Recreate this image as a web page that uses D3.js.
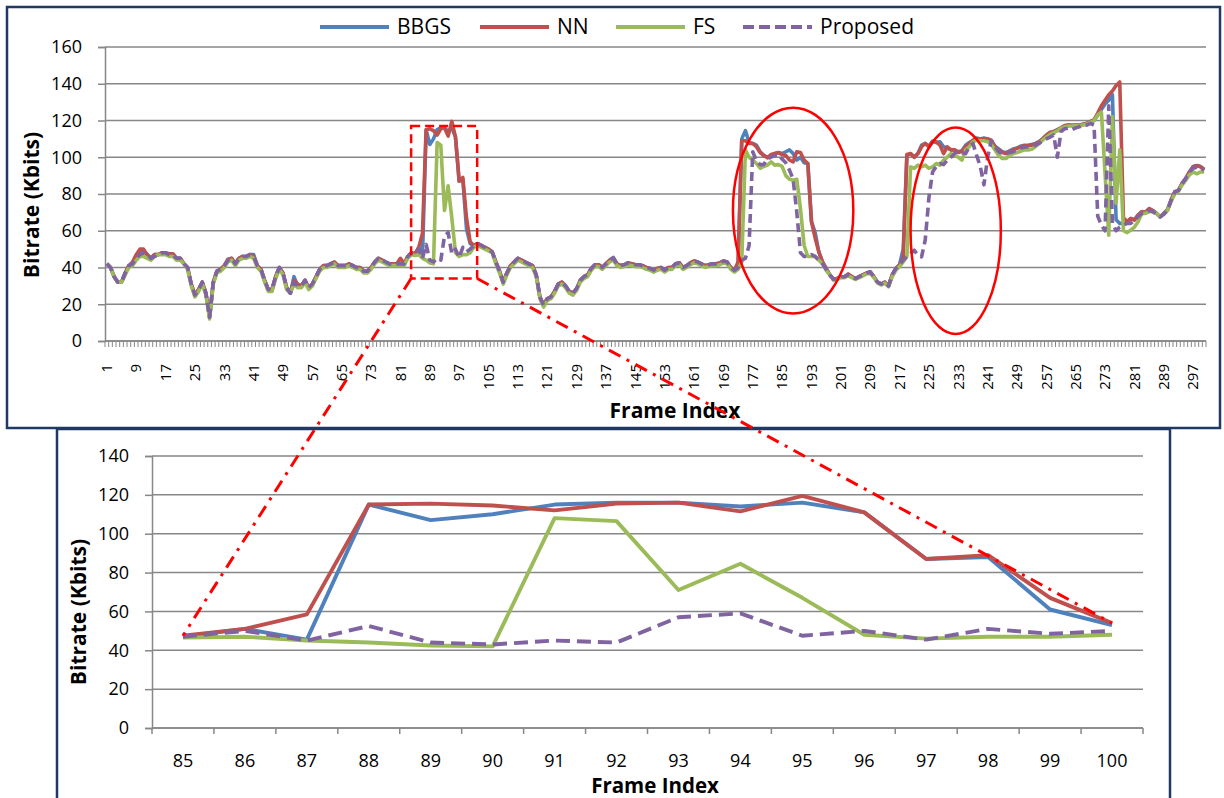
<!DOCTYPE html>
<html>
<head>
<meta charset="utf-8">
<script src="https://cdn.jsdelivr.net/npm/d3@7/dist/d3.min.js"></script>
<style>
  body { margin: 0; background: #fff; }
  svg { display: block; font-family: "Open Sans", sans-serif; }
</style>
</head>
<body>
<svg id="chart" width="1224" height="798"></svg>
<script>
// frame index categories of the full run and of the zoomed window
const frames = d3.range(1, 301)
const zoomFrames = [85, 86, 87, 88, 89, 90, 91, 92, 93, 94, 95, 96, 97, 98, 99, 100]
const topLabelFrames = [1, 9, 17, 25, 33, 41, 49, 57, 65, 73, 81, 89, 97, 105, 113, 121, 129, 137, 145,
  153, 161, 169, 177, 185, 193, 201, 209, 217, 225, 233, 241, 249, 257, 265, 273, 281, 289, 297]
const topYTicks = [0, 20, 40, 60, 80, 100, 120, 140, 160]
const zoomYTicks = [0, 20, 40, 60, 80, 100, 120, 140]

// bitrate (Kbits) per frame
const bbgs = [
  42, 40, 35, 32, 32, 37, 41, 42, 46, 49,
  49, 47, 45, 47, 47, 48, 48, 47, 47, 45,
  45, 42, 40, 31, 25, 28, 32, 26, 13, 32,
  38, 39, 41, 44, 45, 42, 45, 46, 46, 47,
  47, 41, 39, 33, 28, 28, 35, 40, 37, 29,
  26, 35, 30, 30, 33, 29, 31, 35, 39, 41,
  41, 42, 43, 41, 41, 41, 42, 41, 40, 40,
  38, 38, 40, 43, 45, 44, 43, 42, 42, 42,
  42, 42, 46, 48, 47, 51, 45.5, 115, 107, 110,
  115, 116, 116, 114, 116, 111, 87, 88, 61, 53,
  52, 53, 52, 51, 50, 48.5, 43, 38, 32, 37,
  41, 43, 45, 44, 43, 42, 41, 36, 24, 19.5,
  23, 24, 27, 31, 32, 30, 27, 26, 28.5, 33,
  35, 36, 39.5, 41.5, 41.5, 40, 42, 44, 45.5, 42,
  41, 41.5, 42.5, 42, 41.5, 41.5, 41, 40, 39.5, 38.5,
  39.5, 40, 38.5, 40, 40, 42, 42.5, 40, 41, 42.5,
  43.5, 43, 42, 41, 41.5, 42, 42, 42.5, 43.5, 43,
  40, 38.5, 40, 110, 114.5, 108, 107.5, 106.6, 103, 101,
  100, 101, 102, 102.6, 102, 103, 104, 102, 98.5, 100,
  97, 96.6, 65, 59, 48.5, 43, 39.5, 36, 33.6, 34,
  35, 35, 36, 35, 34, 35, 36, 37, 37.6, 35,
  32, 31, 32, 30, 36, 39.5, 41.5, 50, 101, 102,
  100, 102, 106.6, 107.5, 106, 108.8, 108, 108.4, 105.7, 105,
  104, 104, 103, 103.5, 106.5, 108, 109, 110.5, 110, 110.5,
  110, 109, 106, 104.5, 103, 102.5, 103.5, 104.5, 105, 106,
  106.5, 106.5, 107, 107.5, 108.5, 110, 112, 113.5, 114, 115,
  116, 117, 117.5, 117.5, 117.5, 117.5, 118, 118.5, 119.5, 120,
  123, 126, 129, 131, 134, 66, 64, 64, 64.5, 66.5,
  66, 68.5, 70.5, 70, 72, 71, 69.5, 67.5, 69.5, 71.5,
  77, 81, 82, 86, 88.5, 92, 95, 95.5, 95, 93.5
]
const nn = [
  42, 40, 35, 32, 32, 37, 41, 43, 47, 50,
  50, 47, 45, 47, 47, 48, 48, 47.5, 47.5, 45,
  45, 42, 40, 31, 25, 28, 32, 26, 13, 32,
  38, 39, 41, 44.5, 45, 42, 45, 46, 46, 47,
  46, 41, 39, 33, 28, 28, 35, 40, 37, 29,
  26, 33, 31, 30, 33, 29, 31, 35, 39, 41,
  41, 42, 43, 41, 41, 41, 42, 41, 40, 40,
  38, 38, 40, 43, 45, 44, 43, 42, 42, 42,
  45, 42, 46, 48, 47.5, 51, 58.5, 115, 115.5, 114.5,
  112, 115.5, 116, 111.5, 119.5, 111, 87, 89, 67, 54,
  52, 53, 52, 51, 50, 48.5, 43, 38, 32, 37,
  41, 43, 45, 44, 43, 42, 41, 36, 24, 19.5,
  23, 24, 27, 31, 32, 30, 27, 26, 28.5, 33,
  35, 36, 39.5, 41.5, 41.5, 40, 42, 44, 45, 42,
  41, 41.5, 42.5, 42, 41.5, 41.5, 41, 40, 39.5, 38.5,
  39.5, 40, 38.5, 40, 40, 42, 42.5, 40, 41, 42.5,
  43.5, 43, 42, 41, 41.5, 42, 42, 42.5, 43.5, 43,
  40, 38.5, 43, 109, 109, 107.5, 107.5, 105.7, 102.6, 101,
  99.7, 101.5, 102, 102.4, 101.5, 101, 98.5, 97.5, 103, 102.6,
  98.5, 96.6, 65, 56, 48.5, 43, 39.5, 36, 33.6, 34,
  35, 35, 36.5, 35, 34, 35, 36, 37, 37.6, 35,
  32, 31, 32, 30, 36, 39.5, 41.5, 45, 101.5, 102,
  100, 102, 105.7, 107.5, 105.7, 108.4, 108.4, 106.6, 102, 105.7,
  104, 104, 102.6, 103.3, 105.7, 107.5, 109.3, 110, 110, 110,
  110, 109.3, 105.7, 104, 102.6, 102, 103, 104, 104.8, 105.7,
  106.2, 106.2, 106.6, 107, 108.4, 110, 112, 113.5, 113.9, 114.8,
  116, 117.3, 117.5, 117.3, 117.5, 117.5, 117.9, 118.4, 119.3, 120.5,
  124, 128, 131, 134, 136, 139, 141, 67, 65, 66.7,
  65.8, 68.5, 70.3, 70, 72, 71, 69.4, 67.6, 69.4, 71.2,
  76.7, 81.2, 82, 85.7, 88.5, 92, 94.8, 95.4, 94.8, 93
]
const fs = [
  42, 40, 35, 32, 32, 36, 40, 41, 44, 46,
  46, 45, 44, 46, 47, 47, 47, 46, 46, 44,
  44, 42, 39, 30, 24, 27, 31, 25, 12, 31,
  37, 38, 40, 43, 44, 41, 44, 45, 45, 46,
  45, 40, 38, 32, 27, 27, 34, 39, 36, 28,
  26, 31, 29, 29, 32, 28, 30, 34, 38, 40,
  40, 41, 42, 40, 40, 40, 41, 40, 39, 39,
  37, 37, 39, 42, 44, 43, 42, 41, 41, 41,
  41, 41, 45, 47, 46.5, 47, 45, 44, 42.5, 42,
  108, 106.5, 71, 84.5, 67, 48, 46, 47, 47, 48,
  51, 52, 51, 50, 49, 48, 42, 37, 31, 36,
  40, 42, 44, 43, 42, 41, 40, 35, 23, 18.5,
  22, 23, 26, 30, 31, 29, 26, 25, 27.5, 32,
  34, 35, 38.5, 40.5, 40.5, 39, 41, 43, 44, 41,
  40, 40.5, 41.5, 41, 40.5, 40.5, 40, 39, 38.5, 37.5,
  38.5, 39, 37.5, 39, 39, 41, 41.5, 39, 40, 41.5,
  42.5, 42, 41, 40, 40.5, 41, 41, 41.5, 42.5, 42,
  39, 37.5, 39, 43, 104, 100, 98.5, 96.6, 94, 95,
  95.7, 97.5, 95.7, 96, 95, 90, 88, 87.5, 88, 72,
  52, 46, 46, 46, 44, 42, 38.5, 36, 33, 33.5,
  34.5, 34.5, 35.5, 34.5, 33.5, 34.5, 35.5, 36.5, 37, 34.5,
  31.5, 30.5, 31.5, 29.5, 35, 38.5, 40.5, 43, 46, 94.8,
  94, 95.7, 94.8, 95.7, 94, 94.8, 96.6, 95.7, 98.4, 100,
  102, 101, 100, 98.4, 104, 105.7, 108.4, 109.3, 109, 109,
  108.5, 107, 104, 101, 99.3, 99.3, 101, 102, 102.6, 103.3,
  104, 104, 104.4, 105.7, 107.5, 109.3, 111, 112.4, 113.4, 114.3,
  115.8, 116.5, 117, 117, 117.3, 117.3, 117.5, 118, 119, 120,
  123, 124.5, 91, 57.6, 122, 75, 104, 60, 59, 60.3,
  62, 64.9, 69.4, 69.4, 70.3, 70.3, 69.4, 67.6, 69, 71,
  76, 80, 81.5, 85, 87.5, 90.5, 92, 91, 92, 92
]
const proposed = [
  42, 40, 35, 32, 32, 37, 41, 42, 45, 47,
  48, 47, 45, 46, 47, 48, 48, 47, 47, 45,
  45, 42, 40, 31, 25, 28, 32, 26, 13, 32,
  38, 39, 41, 44, 45, 42, 45, 46, 46, 47,
  46, 41, 39, 33, 28, 28, 35, 40, 37, 29,
  26, 32, 30, 30, 33, 29, 31, 35, 39, 41,
  41, 42, 43, 41, 41, 41, 42, 41, 40, 40,
  38, 38, 40, 43, 45, 44, 43, 42, 42, 42,
  42, 42, 46, 48, 47, 50, 45, 52.5, 44, 43,
  45, 44, 57, 59, 47.5, 50, 45.5, 51, 48.5, 50,
  52, 53, 52, 51, 50, 48.5, 43, 38, 32, 37,
  41, 43, 45, 44, 43, 42, 41, 36, 24, 19.5,
  23, 24, 27, 31, 32, 30, 27, 26, 28.5, 33,
  35, 36, 39.5, 41.5, 41.5, 40, 42, 44, 45, 42,
  41, 41.5, 42.5, 42, 41.5, 41.5, 41, 40, 39.5, 38.5,
  39.5, 40, 38.5, 40, 40, 42, 42.5, 40, 41, 42.5,
  43.5, 43, 42, 41, 41.5, 42, 42, 42.5, 43.5, 43,
  40, 38.5, 40, 44, 45, 52, 103, 98, 96, 96,
  99, 100, 101, 101.5, 99, 97, 93, 88, 70, 48,
  46, 46, 47, 46, 44, 42, 39, 36, 33.6, 34,
  35, 35, 36, 35, 34, 35, 36, 37, 37.6, 35,
  32, 31, 32, 30, 36, 39.5, 41.5, 44, 46, 47.6,
  49.4, 46.7, 45.8, 55, 78, 92, 95, 96.6, 96, 98.4,
  100, 102, 103.3, 102.6, 102, 105.7, 107.5, 101, 95, 85,
  100, 109, 105.7, 103, 102, 102, 102.6, 103, 104, 105,
  105.5, 105.7, 106, 106.5, 107.5, 109, 110, 111, 112, 100,
  114, 115.5, 115.8, 115, 116, 116.6, 117.5, 117.5, 118.4, 117.5,
  68, 63, 60, 128, 64, 60, 62, 63, 64, 64,
  65.8, 67.6, 69.4, 69.4, 71, 70.5, 69, 67.6, 69, 71,
  76.5, 81, 82, 85.5, 88.5, 92, 94, 94.5, 94, 93
]

const series = [
  { name: 'BBGS', values: bbgs, color: '#4F81BD', dash: null },
  { name: 'NN', values: nn, color: '#C0504D', dash: null },
  { name: 'FS', values: fs, color: '#9BBB59', dash: null },
  { name: 'Proposed', values: proposed, color: '#8064A2', dash: true },
]

// red marks drawn over the overview: zoom box and two ellipses (frame / Kbits units)
const zoomBox = { first: 84, last: 101, low: 34, high: 117 }
const ellipses = [
  { frame: 188, value: 71, rx: 16.4, ry: 56 },
  { frame: 232.3, value: 60, rx: 12.3, ry: 56.2 },
]

const gridColor = '#878787'
const frameColor = '#1F3864'
const red = '#FF0000'

const svg = d3.select('#chart')

// panel frames
svg.append('rect')
  .attr('x', 57).attr('y', 429).attr('width', 1113).attr('height', 380)
  .attr('fill', '#fff').attr('stroke', frameColor).attr('stroke-width', 2.5)
svg.append('rect')
  .attr('x', 7).attr('y', 7).attr('width', 1213).attr('height', 421)
  .attr('fill', '#fff').attr('stroke', frameColor).attr('stroke-width', 2.5)

const styleAxis = (g, size) => {
  g.select('.domain').attr('stroke', gridColor).attr('stroke-width', 1.5)
  g.selectAll('.tick line').attr('stroke', gridColor).attr('stroke-width', 1.5)
  g.selectAll('.tick text')
    .attr('font-family', '"Open Sans", sans-serif')
    .attr('font-size', size).attr('fill', '#000')
  g.attr('font-family', null).attr('font-size', null)
}

const drawPanel = (opts) => {
  const { x, y, yTicks, cats, lineWidth, dashArray, labelFrames } = opts
  const g = svg.append('g')
  const [x0, x1] = x.range()
  const [y0] = y.range()

  g.selectAll('.grid')
    .data(yTicks)
    .join('line')
    .attr('x1', x0).attr('x2', x1)
    .attr('y1', (d) => y(d)).attr('y2', (d) => y(d))
    .attr('stroke', gridColor).attr('stroke-width', 1.5)

  g.append('g')
    .attr('transform', `translate(${x0},0)`)
    .call(d3.axisLeft(y).tickValues(yTicks).tickSize(7).tickPadding(16))
    .call((a) => styleAxis(a, 18))

  // category axis: ticks between categories
  g.append('line')
    .attr('x1', x0).attr('x2', x1).attr('y1', y0).attr('y2', y0)
    .attr('stroke', gridColor).attr('stroke-width', 1.5)
  g.selectAll('.ctick')
    .data([...cats.map((c) => x(c)), x1])
    .join('line')
    .attr('x1', (d) => d).attr('x2', (d) => d)
    .attr('y1', y0).attr('y2', y0 + 6)
    .attr('stroke', gridColor).attr('stroke-width', opts.tickWidth)

  const cx = (c) => x(c) + x.bandwidth() / 2
  if (opts.rotateLabels) {
    g.selectAll('.xlab')
      .data(labelFrames)
      .join('text')
      .attr('x', cx).attr('y', y0 + 23)
      .attr('dy', '0.35em')
      .attr('text-anchor', 'end')
      .attr('transform', (d) => `rotate(-90,${cx(d)},${y0 + 23})`)
      .attr('font-size', 15)
      .text((d) => d)
  } else {
    g.selectAll('.xlab')
      .data(labelFrames)
      .join('text')
      .attr('x', cx).attr('y', y0 + 33)
      .attr('dy', '0.35em')
      .attr('text-anchor', 'middle')
      .attr('font-size', 18)
      .text((d) => d)
  }

  const line = d3.line()
    .x((d) => cx(d[0]))
    .y((d) => y(d[1]))

  series.forEach((s) => {
    g.append('path')
      .datum(cats.map((c) => [c, s.values[c - 1]]))
      .attr('d', line)
      .attr('fill', 'none')
      .attr('stroke', s.color)
      .attr('stroke-width', lineWidth)
      .attr('stroke-linejoin', 'round')
      .attr('stroke-dasharray', s.dash ? dashArray : null)
  })

  g.append('text')
    .attr('x', opts.xTitle[0]).attr('y', opts.xTitle[1])
    .attr('dy', '0.35em').attr('text-anchor', 'middle')
    .attr('font-size', opts.xTitle[2]).attr('font-weight', 700)
    .text('Frame Index')
  g.append('text')
    .attr('transform', `translate(${opts.yTitle[0]},${opts.yTitle[1]}) rotate(-90)`)
    .attr('dy', '0.35em').attr('text-anchor', 'middle')
    .attr('font-size', 21).attr('font-weight', 700)
    .text('Bitrate (Kbits)')
  return g
}

// overview chart
const xTop = d3.scaleBand().domain(frames).range([105, 1206])
const yTop = d3.scaleLinear().domain([0, 160]).range([341, 47])
drawPanel({
  x: xTop, y: yTop, yTicks: topYTicks, cats: frames, lineWidth: 3.6,
  dashArray: '9,5', labelFrames: topLabelFrames, rotateLabels: true,
  tickWidth: 1, xTitle: [675, 411, 21], yTitle: [32, 205],
})

// zoomed chart
const xZoom = d3.scaleBand().domain(zoomFrames).range([152, 1143])
const yZoom = d3.scaleLinear().domain([0, 140]).range([728, 456])
drawPanel({
  x: xZoom, y: yZoom, yTicks: zoomYTicks, cats: zoomFrames, lineWidth: 3.9,
  dashArray: '14,7', labelFrames: zoomFrames, rotateLabels: false,
  tickWidth: 1.5, xTitle: [655, 786, 20.5], yTitle: [79, 612],
})

// legend
const legendX = [320, 480, 616, 743]
const legend = svg.append('g')
series.forEach((s, i) => {
  legend.append('line')
    .attr('x1', legendX[i]).attr('x2', legendX[i] + 69)
    .attr('y1', 27).attr('y2', 27)
    .attr('stroke', s.color).attr('stroke-width', 4)
    .attr('stroke-dasharray', s.dash ? '11,5' : null)
  legend.append('text')
    .attr('x', legendX[i] + 77).attr('y', 27).attr('dy', '0.35em')
    .attr('font-size', 21)
    .text(s.name)
})

// red annotations
const ann = svg.append('g').attr('fill', 'none').attr('stroke', red)
const boxL = xTop(zoomBox.first) + 1.5
const boxR = xTop(zoomBox.last) + xTop.bandwidth() + 1.5
const boxT = yTop(zoomBox.high)
const boxB = yTop(zoomBox.low)
ann.append('rect')
  .attr('x', boxL).attr('y', boxT)
  .attr('width', boxR - boxL).attr('height', boxB - boxT)
  .attr('stroke-width', 2.5).attr('stroke-dasharray', '9,5')

const zx = (f) => xZoom(f) + xZoom.bandwidth() / 2
const firstZ = zoomFrames[0]
const lastZ = zoomFrames[zoomFrames.length - 1]
const connectors = [
  [[boxL, boxB], [zx(firstZ), yZoom(nn[firstZ - 1])]],
  [[boxR, boxB], [zx(lastZ), yZoom(nn[lastZ - 1])]],
]
ann.selectAll('.conn')
  .data(connectors)
  .join('line')
  .attr('x1', (d) => d[0][0]).attr('y1', (d) => d[0][1])
  .attr('x2', (d) => d[1][0]).attr('y2', (d) => d[1][1])
  .attr('stroke-width', 3).attr('stroke-dasharray', '13,7,3,7')

const step = xTop.step()
ann.selectAll('ellipse')
  .data(ellipses)
  .join('ellipse')
  .attr('cx', (d) => xTop.range()[0] + (d.frame - 0.5) * step)
  .attr('cy', (d) => yTop(d.value))
  .attr('rx', (d) => d.rx * step)
  .attr('ry', (d) => yTop(0) - yTop(d.ry))
  .attr('stroke-width', 2.5)
</script>
</body>
</html>
